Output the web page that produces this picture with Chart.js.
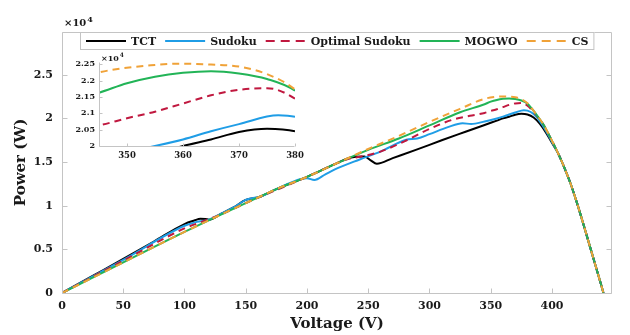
<!DOCTYPE html>
<html>
<head>
<meta charset="utf-8">
<script src="https://cdn.jsdelivr.net/npm/chart.js@4.4.0/dist/chart.umd.min.js"></script>
<style>
body { margin: 0; background: #fff; }
#wrap { position: relative; width: 630px; height: 335px; }
#mainBox { position: absolute; left: 0; top: 0; width: 630px; height: 335px; }
#insetBox { position: absolute; left: 60px; top: 50px; width: 250px; height: 120px; }
</style>
</head>
<body>
<div id="wrap">
  <div id="mainBox"><canvas id="main"></canvas></div>
  <div id="insetBox"><canvas id="inset"></canvas></div>
</div>
<script>
// values, power in units of 1e4 W
const tctV = [0, 25, 50, 75, 100, 108, 113, 117, 120, 130, 140, 150, 161, 175, 200, 225, 235, 247, 252, 257, 270, 290, 310, 330, 345, 355, 360, 365, 370, 375, 380, 385, 390, 395, 400, 405, 410, 415, 420, 425, 430, 435, 440, 442];
const tctP = [0, 0.195, 0.39, 0.59, 0.79, 0.83, 0.85, 0.848, 0.84, 0.91, 0.98, 1.066, 1.10, 1.19, 1.33, 1.49, 1.55, 1.565, 1.52, 1.48, 1.545, 1.645, 1.75, 1.85, 1.925, 1.975, 2.0, 2.02, 2.043, 2.053, 2.045, 2.01, 1.94, 1.84, 1.72, 1.60, 1.44, 1.26, 1.05, 0.82, 0.58, 0.34, 0.10, 0];

const sudokuV = [0, 50, 100, 110, 120, 130, 140, 150, 157, 161, 175, 195, 200, 206, 215, 225, 243, 260, 281, 290, 300, 315, 327, 334, 345, 355, 360, 365, 370, 377, 380, 385, 390, 395, 400, 405, 410, 415, 420, 425, 430, 435, 440, 442];
const sudokuP = [0, 0.38, 0.77, 0.815, 0.84, 0.91, 0.98, 1.066, 1.09, 1.10, 1.19, 1.305, 1.315, 1.295, 1.36, 1.43, 1.53, 1.62, 1.755, 1.77, 1.82, 1.90, 1.946, 1.935, 1.965, 2.0, 2.02, 2.045, 2.067, 2.094, 2.089, 2.05, 1.97, 1.86, 1.73, 1.60, 1.44, 1.26, 1.05, 0.82, 0.58, 0.34, 0.10, 0];

const optV = [0, 50, 100, 115, 130, 150, 200, 225, 235, 243, 250, 260, 280, 300, 320, 333, 345, 350, 355, 360, 365, 370, 375, 380, 387, 393, 398, 405, 410, 415, 420, 425, 430, 435, 440, 442];
const optP = [0, 0.37, 0.74, 0.82, 0.90, 1.03, 1.33, 1.49, 1.54, 1.56, 1.58, 1.62, 1.74, 1.88, 1.99, 2.03, 2.063, 2.085, 2.105, 2.13, 2.155, 2.172, 2.177, 2.145, 2.04, 1.93, 1.80, 1.60, 1.44, 1.26, 1.05, 0.82, 0.58, 0.34, 0.10, 0];

const mogwoV = [0, 50, 100, 150, 161, 175, 200, 225, 250, 275, 300, 325, 345, 350, 355, 360, 365, 370, 375, 380, 387, 393, 398, 405, 410, 415, 420, 425, 430, 435, 440, 442];
const mogwoP = [0, 0.35, 0.70, 1.03, 1.10, 1.19, 1.33, 1.49, 1.64, 1.77, 1.92, 2.07, 2.163, 2.192, 2.212, 2.224, 2.229, 2.222, 2.205, 2.169, 2.05, 1.93, 1.80, 1.60, 1.44, 1.26, 1.05, 0.82, 0.58, 0.34, 0.10, 0];

const csV = [0, 50, 100, 150, 161, 175, 200, 225, 250, 275, 300, 325, 345, 355, 360, 365, 370, 375, 380, 387, 393, 398, 405, 410, 415, 420, 425, 430, 435, 440, 442];
const csP = [0, 0.35, 0.70, 1.03, 1.10, 1.19, 1.33, 1.49, 1.65, 1.80, 1.96, 2.11, 2.225, 2.248, 2.252, 2.249, 2.243, 2.22, 2.173, 2.05, 1.93, 1.80, 1.60, 1.44, 1.26, 1.05, 0.82, 0.58, 0.34, 0.10, 0];

const seriesNames = ["TCT", "Sudoku", "Optimal Sudoku", "MOGWO", "CS"];
const xTicks = [0, 50, 100, 150, 200, 250, 300, 350, 400];
const yTicks = [0, 0.5, 1, 1.5, 2, 2.5];
const insetXTicks = [350, 360, 370, 380];
const insetYTicks = [2, 2.05, 2.1, 2.15, 2.2, 2.25];

const FONT = "'DejaVu Serif', serif";
const AXIS_GRAY = "#c4c4c4";

const pts = (v, p) => v.map((x, i) => ({ x: x, y: p[i] }));

const makeDatasets = () => [
  { label: seriesNames[0], data: pts(tctV, tctP), borderColor: "#000000", order: 5 },
  { label: seriesNames[1], data: pts(sudokuV, sudokuP), borderColor: "#1f9de6", order: 4 },
  { label: seriesNames[2], data: pts(optV, optP), borderColor: "#c0183f", borderDash: [7, 5], order: 3 },
  { label: seriesNames[3], data: pts(mogwoV, mogwoP), borderColor: "#22b457", order: 2 },
  { label: seriesNames[4], data: pts(csV, csP), borderColor: "#f0a238", borderDash: [7, 5], order: 1 },
].map(d => Object.assign(d, {
  borderWidth: 2, pointRadius: 0, fill: false, cubicInterpolationMode: "monotone"
}));

// frame, inward tick marks and the x10^4 note
const framePlugin = {
  id: "frame",
  afterDraw(chart, args, opts) {
    const { ctx, chartArea: a, scales: { x, y } } = chart;
    ctx.save();
    ctx.strokeStyle = AXIS_GRAY;
    ctx.lineWidth = 1;
    ctx.beginPath();
    const L = Math.round(a.left) + 0.5, R = Math.round(a.right) - 0.5;
    const T = Math.round(a.top) + 0.5, B = Math.round(a.bottom) + 0.5;
    if (opts.box) {
      ctx.rect(L, T, R - L, B - T);
    } else {
      ctx.moveTo(L, T); ctx.lineTo(L, B); ctx.lineTo(R, B);
    }
    x.ticks.forEach(t => {
      const px = Math.round(x.getPixelForValue(t.value)) + 0.5;
      ctx.moveTo(px, B); ctx.lineTo(px, B - opts.len);
      if (opts.box) { ctx.moveTo(px, T); ctx.lineTo(px, T + opts.len); }
    });
    y.ticks.forEach(t => {
      const py = Math.round(y.getPixelForValue(t.value)) + 0.5;
      ctx.moveTo(L, py); ctx.lineTo(L + opts.len, py);
      if (opts.box) { ctx.moveTo(R, py); ctx.lineTo(R - opts.len, py); }
    });
    ctx.stroke();

    ctx.fillStyle = "#1a1a1a";
    ctx.textBaseline = "alphabetic";
    ctx.font = "bold " + opts.expSize + "px " + FONT;
    const bx = a.left + opts.expDx, by = a.top - opts.expDy;
    ctx.fillText("\u00d710", bx, by);
    const w = ctx.measureText("\u00d710").width;
    ctx.font = "bold " + Math.round(opts.expSize * 0.78) + "px " + FONT;
    ctx.fillText("4", bx + w + 1, by - opts.expSize * 0.45);
    ctx.restore();
  }
};

// boxed horizontal legend sitting inside the top of the plot
const legendPlugin = {
  id: "boxLegend",
  afterDraw(chart, args, opts) {
    if (!opts.show) return;
    const ctx = chart.ctx, a = chart.chartArea;
    ctx.save();
    ctx.font = "bold 11px " + FONT;
    const sample = 40, gapIn = 5, gapOut = 9, padX = 6, h = 18;
    const items = chart.data.datasets.map(ds => ({ ds: ds, w: ctx.measureText(ds.label).width }));
    const total = padX * 2 + items.reduce((s, it) => s + sample + gapIn + it.w, 0) + gapOut * (items.length - 1);
    const x0 = Math.round((a.left + a.right) / 2 - total / 2);
    const y0 = Math.round(a.top);
    ctx.fillStyle = "#fff";
    ctx.fillRect(x0, y0, total, h);
    ctx.strokeStyle = AXIS_GRAY;
    ctx.lineWidth = 1;
    ctx.strokeRect(x0 + 0.5, y0 + 0.5, total - 1, h - 1);
    let x = x0 + padX;
    const yc = y0 + h / 2;
    items.forEach(it => {
      ctx.beginPath();
      ctx.setLineDash(it.ds.borderDash ? [9, 6] : []);
      ctx.strokeStyle = it.ds.borderColor;
      ctx.lineWidth = 2;
      ctx.moveTo(x, yc); ctx.lineTo(x + sample, yc);
      ctx.stroke();
      ctx.setLineDash([]);
      x += sample + gapIn;
      ctx.fillStyle = "#1a1a1a";
      ctx.textBaseline = "middle";
      ctx.fillText(it.ds.label, x, yc + 1);
      x += it.w + gapOut;
    });
    ctx.restore();
  }
};

const fmt = v => String(+Number(v).toFixed(2));

const mainChart = new Chart(document.getElementById("main"), {
  type: "line",
  data: { datasets: makeDatasets() },
  options: {
    responsive: true,
    maintainAspectRatio: false,
    animation: false,
    layout: { padding: { top: 32, right: 18, left: 0, bottom: 0 } },
    plugins: {
      legend: { display: false },
      tooltip: { enabled: false },
      frame: { box: true, len: 5, expSize: 10, expDx: 2, expDy: 6 },
      boxLegend: { show: true },
    },
    scales: {
      x: {
        type: "linear", min: 0, max: 449,
        afterBuildTicks: s => { s.ticks = xTicks.map(v => ({ value: v })); },
        afterFit: s => { s.height = 42; },
        grid: { display: false, drawTicks: false },
        border: { display: false },
        ticks: { font: { family: FONT, size: 11, weight: "bold" }, color: "#1a1a1a", padding: 7, maxRotation: 0, callback: fmt },
        title: { display: true, text: "Voltage (V)", font: { family: FONT, size: 15, weight: "bold" }, color: "#1a1a1a", padding: { top: 0, bottom: 2 } },
      },
      y: {
        type: "linear", min: 0, max: 2.99,
        afterBuildTicks: s => { s.ticks = yTicks.map(v => ({ value: v })); },
        afterFit: s => { s.width = 62; },
        grid: { display: false, drawTicks: false },
        border: { display: false },
        ticks: { font: { family: FONT, size: 11, weight: "bold" }, color: "#1a1a1a", padding: 9, callback: fmt },
        title: { display: true, text: "Power (W)", font: { family: FONT, size: 15, weight: "bold" }, color: "#1a1a1a", padding: { top: 12, bottom: 0 } },
      },
    },
  },
  plugins: [framePlugin, legendPlugin],
});

const insetChart = new Chart(document.getElementById("inset"), {
  type: "line",
  data: { datasets: makeDatasets() },
  options: {
    responsive: true,
    maintainAspectRatio: false,
    animation: false,
    layout: { padding: { top: 12, right: 15, left: 0, bottom: 0 } },
    plugins: {
      legend: { display: false },
      tooltip: { enabled: false },
      frame: { box: false, len: 3, expSize: 8, expDx: 2, expDy: 1 },
      boxLegend: { show: false },
    },
    scales: {
      x: {
        type: "linear", min: 345, max: 380,
        afterBuildTicks: s => { s.ticks = insetXTicks.map(v => ({ value: v })); },
        afterFit: s => { s.height = 24; },
        grid: { display: false, drawTicks: false },
        border: { display: false },
        ticks: { font: { family: FONT, size: 8.5, weight: "bold" }, color: "#1a1a1a", padding: 5, maxRotation: 0, callback: fmt },
      },
      y: {
        type: "linear", min: 2, max: 2.257,
        afterBuildTicks: s => { s.ticks = insetYTicks.map(v => ({ value: v })); },
        afterFit: s => { s.width = 39; },
        grid: { display: false, drawTicks: false },
        border: { display: false },
        ticks: { font: { family: FONT, size: 8, weight: "bold" }, color: "#1a1a1a", padding: 4, callback: fmt },
      },
    },
  },
  plugins: [framePlugin],
});
</script>
</body>
</html>
